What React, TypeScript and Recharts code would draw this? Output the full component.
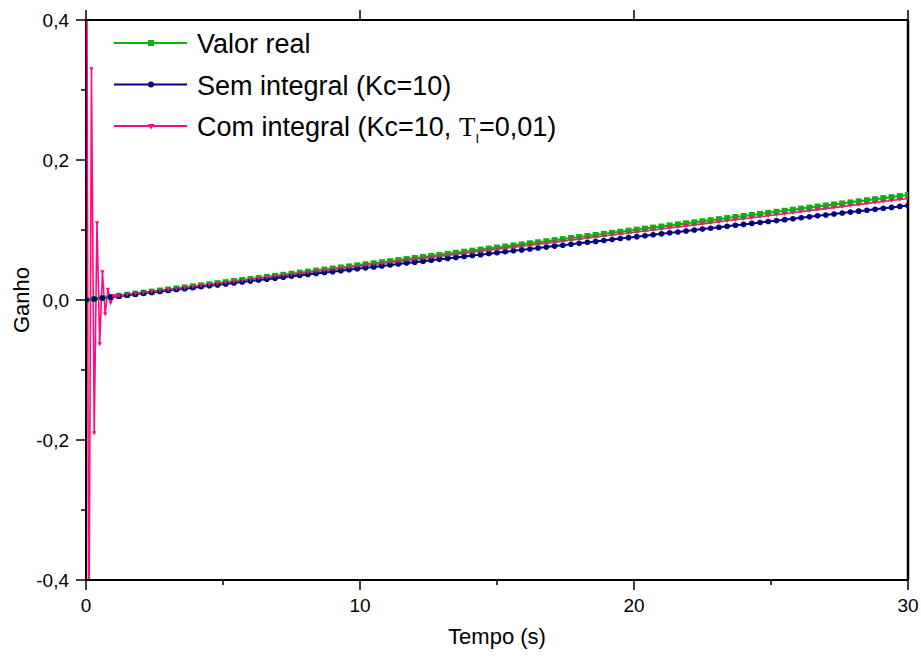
import React from 'react';
import { LineChart, Line, XAxis, YAxis, ReferenceLine } from 'recharts';

// ---- data ----
const tempo = [0, 0.3, 0.6, 0.9, 1.2, 1.5, 1.8, 2.1, 2.4, 2.7, 3, 3.3, 3.6, 3.9, 4.2, 4.5, 4.8, 5.1, 5.4, 5.7, 6, 6.3, 6.6, 6.9, 7.2, 7.5, 7.8, 8.1, 8.4, 8.7, 9, 9.3, 9.6, 9.9, 10.2, 10.5, 10.8, 11.1, 11.4, 11.7, 12, 12.3, 12.6, 12.9, 13.2, 13.5, 13.8, 14.1, 14.4, 14.7, 15, 15.3, 15.6, 15.9, 16.2, 16.5, 16.8, 17.1, 17.4, 17.7, 18, 18.3, 18.6, 18.9, 19.2, 19.5, 19.8, 20.1, 20.4, 20.7, 21, 21.3, 21.6, 21.9, 22.2, 22.5, 22.8, 23.1, 23.4, 23.7, 24, 24.3, 24.6, 24.9, 25.2, 25.5, 25.8, 26.1, 26.4, 26.7, 27, 27.3, 27.6, 27.9, 28.2, 28.5, 28.8, 29.1, 29.4, 29.7, 30];

const valorReal = [0, 0.0015, 0.003, 0.0045, 0.006, 0.0075, 0.009, 0.0105, 0.012, 0.0135, 0.015, 0.0165, 0.018, 0.0195, 0.021, 0.0225, 0.024, 0.0255, 0.027, 0.0285, 0.03, 0.0315, 0.033, 0.0345, 0.036, 0.0375, 0.039, 0.0405, 0.042, 0.0435, 0.045, 0.0465, 0.048, 0.0495, 0.051, 0.0525, 0.054, 0.0555, 0.057, 0.0585, 0.06, 0.0615, 0.063, 0.0645, 0.066, 0.0675, 0.069, 0.0705, 0.072, 0.0735, 0.075, 0.0765, 0.078, 0.0795, 0.081, 0.0825, 0.084, 0.0855, 0.087, 0.0885, 0.09, 0.0915, 0.093, 0.0945, 0.096, 0.0975, 0.099, 0.1005, 0.102, 0.1035, 0.105, 0.1065, 0.108, 0.1095, 0.111, 0.1125, 0.114, 0.1155, 0.117, 0.1185, 0.12, 0.1215, 0.123, 0.1245, 0.126, 0.1275, 0.129, 0.1305, 0.132, 0.1335, 0.135, 0.1365, 0.138, 0.1395, 0.141, 0.1425, 0.144, 0.1455, 0.147, 0.1485, 0.15];

const semIntegral = [0, 0.0014, 0.0027, 0.0041, 0.0054, 0.0068, 0.0081, 0.0095, 0.0108, 0.0122, 0.0135, 0.0149, 0.0162, 0.0176, 0.0189, 0.0203, 0.0216, 0.023, 0.0243, 0.0257, 0.027, 0.0284, 0.0297, 0.0311, 0.0324, 0.0338, 0.0351, 0.0365, 0.0378, 0.0392, 0.0405, 0.0419, 0.0432, 0.0446, 0.0459, 0.0473, 0.0486, 0.05, 0.0513, 0.0527, 0.054, 0.0554, 0.0567, 0.0581, 0.0594, 0.0608, 0.0621, 0.0635, 0.0648, 0.0662, 0.0675, 0.0689, 0.0702, 0.0716, 0.0729, 0.0743, 0.0756, 0.077, 0.0783, 0.0797, 0.081, 0.0824, 0.0837, 0.0851, 0.0864, 0.0878, 0.0891, 0.0905, 0.0918, 0.0932, 0.0945, 0.0959, 0.0972, 0.0986, 0.0999, 0.1013, 0.1026, 0.104, 0.1053, 0.1067, 0.108, 0.1094, 0.1107, 0.1121, 0.1134, 0.1148, 0.1161, 0.1175, 0.1188, 0.1202, 0.1215, 0.1229, 0.1242, 0.1256, 0.1269, 0.1283, 0.1296, 0.131, 0.1323, 0.1337, 0.135];

const tempoCom = [0, 0.1, 0.2, 0.3, 0.4, 0.5, 0.6, 0.7, 0.8, 0.9, 1.0, 1.1, 1.2, 1.5, 1.8, 2.1, 2.4, 2.7, 3, 3.3, 3.6, 3.9, 4.2, 4.5, 4.8, 5.1, 5.4, 5.7, 6, 6.3, 6.6, 6.9, 7.2, 7.5, 7.8, 8.1, 8.4, 8.7, 9, 9.3, 9.6, 9.9, 10.2, 10.5, 10.8, 11.1, 11.4, 11.7, 12, 12.3, 12.6, 12.9, 13.2, 13.5, 13.8, 14.1, 14.4, 14.7, 15, 15.3, 15.6, 15.9, 16.2, 16.5, 16.8, 17.1, 17.4, 17.7, 18, 18.3, 18.6, 18.9, 19.2, 19.5, 19.8, 20.1, 20.4, 20.7, 21, 21.3, 21.6, 21.9, 22.2, 22.5, 22.8, 23.1, 23.4, 23.7, 24, 24.3, 24.6, 24.9, 25.2, 25.5, 25.8, 26.1, 26.4, 26.7, 27, 27.3, 27.6, 27.9, 28.2, 28.5, 28.8, 29.1, 29.4, 29.7, 30];

const comIntegral = [1.0, -0.57, 0.33, -0.19, 0.11, -0.063, 0.04, -0.02, 0.015, -0.004, 0.006, 0.0053, 0.0058, 0.0073, 0.0087, 0.0102, 0.0116, 0.0131, 0.0145, 0.016, 0.0174, 0.0189, 0.0203, 0.0218, 0.0232, 0.0247, 0.0261, 0.0276, 0.029, 0.0305, 0.0319, 0.0334, 0.0348, 0.0363, 0.0377, 0.0392, 0.0406, 0.0421, 0.0435, 0.045, 0.0464, 0.0479, 0.0493, 0.0508, 0.0522, 0.0537, 0.0551, 0.0566, 0.058, 0.0595, 0.0609, 0.0624, 0.0638, 0.0653, 0.0667, 0.0682, 0.0696, 0.0711, 0.0725, 0.074, 0.0754, 0.0769, 0.0783, 0.0798, 0.0812, 0.0827, 0.0841, 0.0856, 0.087, 0.0885, 0.0899, 0.0914, 0.0928, 0.0943, 0.0957, 0.0972, 0.0986, 0.1001, 0.1015, 0.103, 0.1044, 0.1059, 0.1073, 0.1088, 0.1102, 0.1117, 0.1131, 0.1146, 0.116, 0.1175, 0.1189, 0.1204, 0.1218, 0.1233, 0.1247, 0.1262, 0.1276, 0.1291, 0.1305, 0.132, 0.1334, 0.1349, 0.1363, 0.1378, 0.1392, 0.1407, 0.1421, 0.1436, 0.145];

const xMajorTicks = [0, 10, 20, 30];
const xMinorTicks = [5, 15, 25];
const yMajorTicks = [-0.4, -0.2, 0, 0.2, 0.4];
const yMinorTicks = [-0.3, -0.1, 0.1, 0.3];

const seriesNames = ['Valor real', 'Sem integral (Kc=10)', 'Com integral (Kc=10, '];
const xTitle = 'Tempo (s)';
const yTitle = 'Ganho';

const GREEN = '#14ad14';
const NAVY = '#000080';
const PINK = '#ff0a80';
const FONT = '"Liberation Sans", Arial, sans-serif';

const valorData = tempo.map((t, i) => ({ t, v: valorReal[i] }));
const semData = tempo.map((t, i) => ({ t, v: semIntegral[i] }));
const comData = tempoCom.map((t, i) => ({ t, v: comIntegral[i] }));

const fmtY = (v: number) => v.toFixed(1).replace('.', ',');

const BottomTick = (props: any) => {
  const { x, y, payload } = props;
  const v = payload.value;
  const major = xMajorTicks.includes(v);
  return (
    <g>
      <line x1={x} x2={x} y1={y} y2={y + (major ? 10 : 5)} stroke="#000" strokeWidth={1.5} />
      {major && (
        <text x={x} y={y + 32} textAnchor="middle" fontSize={19} fontFamily={FONT} fill="#000">
          {v}
        </text>
      )}
    </g>
  );
};

const TopTick = (props: any) => {
  const { x, y, payload } = props;
  const major = xMajorTicks.includes(payload.value);
  return <line x1={x} x2={x} y1={y} y2={y - (major ? 10 : 5)} stroke="#000" strokeWidth={1.5} />;
};

const LeftTick = (props: any) => {
  const { x, y, payload } = props;
  const v = payload.value;
  const major = yMajorTicks.some((m) => Math.abs(m - v) < 1e-9);
  return (
    <g>
      <line x1={x} x2={x - (major ? 10 : 5)} y1={y} y2={y} stroke="#000" strokeWidth={1.5} />
      {major && (
        <text x={x - 17} y={y + 7} textAnchor="end" fontSize={19} fontFamily={FONT} fill="#000">
          {fmtY(v)}
        </text>
      )}
    </g>
  );
};

const squareDot = (p: any) => (
  <rect key={`g${p.index}`} x={p.cx - 3} y={p.cy - 3} width={6} height={6} fill={GREEN} />
);
const circleDot = (p: any) => <circle key={`b${p.index}`} cx={p.cx} cy={p.cy} r={2.8} fill={NAVY} />;
const triDot = (p: any) => (
  <path
    key={`p${p.index}`}
    d={`M${p.cx - 2.2},${p.cy - 1.8}L${p.cx + 2.2},${p.cy - 1.8}L${p.cx},${p.cy + 2.2}Z`}
    fill={PINK}
  />
);

const Legend = () => {
  const rows = [43, 84.5, 126];
  const x1 = 114;
  const x2 = 187;
  const mx = 151;
  const tx = 197;
  return (
    <g fontFamily={FONT} fontSize={27} fill="#000">
      <line x1={x1} x2={x2} y1={rows[0]} y2={rows[0]} stroke={GREEN} strokeWidth={2} />
      <rect x={mx - 3} y={rows[0] - 3} width={6} height={6} fill={GREEN} />
      <text x={tx} y={rows[0] + 10}>{seriesNames[0]}</text>

      <line x1={x1} x2={x2} y1={rows[1]} y2={rows[1]} stroke={NAVY} strokeWidth={2} />
      <circle cx={mx} cy={rows[1]} r={3} fill={NAVY} />
      <text x={tx} y={rows[1] + 10}>{seriesNames[1]}</text>

      <line x1={x1} x2={x2} y1={rows[2]} y2={rows[2]} stroke={PINK} strokeWidth={2} />
      <path d={`M${mx - 3.5},${rows[2] - 2}L${mx + 3.5},${rows[2] - 2}L${mx},${rows[2] + 3.5}Z`} fill={PINK} />
      <text x={tx} y={rows[2] + 10}>
        {seriesNames[2]}
        <tspan fontFamily={'"Liberation Serif", "Times New Roman", serif'}>T</tspan>
        <tspan fontSize={13} dy={7}>I</tspan>
        <tspan dy={-7}>=0,01)</tspan>
      </text>
    </g>
  );
};

export default function App() {
  return (
    <div style={{ position: 'absolute', left: 0, top: 0, width: 921, height: 657, background: '#fff' }}>
      <LineChart width={921} height={657} margin={{ top: 19, right: 12, bottom: 76, left: 0 }}>
        <XAxis
          xAxisId="bottom"
          orientation="bottom"
          dataKey="t"
          type="number"
          domain={[0, 30]}
          ticks={[...xMajorTicks, ...xMinorTicks].sort((a, b) => a - b)}
          interval={0}
          height={1}
          tickSize={0}
          tickMargin={0}
          tickLine={false}
          tick={<BottomTick />}
          axisLine={{ stroke: '#000', strokeWidth: 2 }}
          allowDataOverflow
        />
        <XAxis
          xAxisId="top"
          orientation="top"
          dataKey="t"
          type="number"
          domain={[0, 30]}
          ticks={xMajorTicks}
          interval={0}
          height={1}
          tickSize={0}
          tickMargin={0}
          tickLine={false}
          tick={<TopTick />}
          axisLine={{ stroke: '#000', strokeWidth: 2 }}
          allowDataOverflow
        />
        <YAxis
          yAxisId="left"
          type="number"
          domain={[-0.4, 0.4]}
          ticks={[...yMajorTicks, ...yMinorTicks].sort((a, b) => a - b)}
          interval={0}
          width={86}
          tickSize={0}
          tickMargin={0}
          tickLine={false}
          tick={<LeftTick />}
          axisLine={false}
          allowDataOverflow
        />
        <YAxis
          yAxisId="right"
          orientation="right"
          type="number"
          domain={[-0.4, 0.4]}
          width={1}
          tick={false}
          tickLine={false}
          axisLine={{ stroke: '#000', strokeWidth: 2.5 }}
          allowDataOverflow
        />
        <ReferenceLine xAxisId="bottom" yAxisId="left" x={0} stroke="#000" strokeWidth={2} />
        <Line
          xAxisId="bottom"
          yAxisId="left"
          data={valorData}
          dataKey="v"
          type="linear"
          stroke={GREEN}
          strokeWidth={2}
          dot={squareDot}
          activeDot={false}
          isAnimationActive={false}
        />
        <Line
          xAxisId="bottom"
          yAxisId="left"
          data={semData}
          dataKey="v"
          type="linear"
          stroke={NAVY}
          strokeWidth={2}
          dot={circleDot}
          activeDot={false}
          isAnimationActive={false}
        />
        <Line
          xAxisId="bottom"
          yAxisId="left"
          data={comData}
          dataKey="v"
          type="linear"
          stroke={PINK}
          strokeWidth={1.6}
          dot={triDot}
          activeDot={false}
          isAnimationActive={false}
        />
      </LineChart>
      <svg
        width={921}
        height={657}
        style={{ position: 'absolute', left: 0, top: 0, pointerEvents: 'none' }}
      >
        <Legend />
        <text
          x={21}
          y={300}
          transform="rotate(-90 21 300)"
          textAnchor="middle"
          dominantBaseline="central"
          fontSize={22}
          fontFamily={FONT}
          fill="#000"
        >
          {yTitle}
        </text>
        <text x={497} y={644} textAnchor="middle" fontSize={22} fontFamily={FONT} fill="#000">
          {xTitle}
        </text>
      </svg>
    </div>
  );
}
